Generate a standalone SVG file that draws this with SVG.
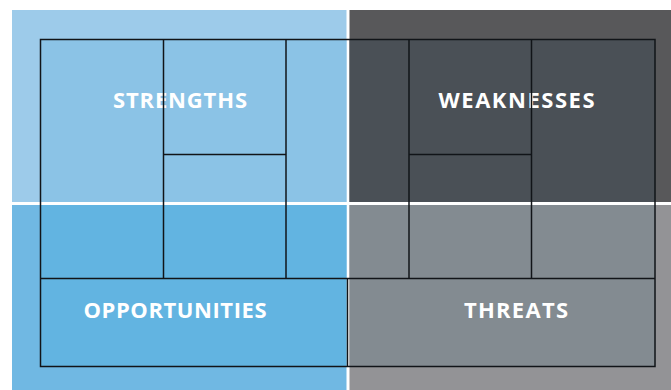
<svg xmlns="http://www.w3.org/2000/svg" width="671" height="390" viewBox="0 0 671 390">
  <style>
    .lbl { font-family: "Open Sans", "Liberation Sans", sans-serif; font-weight: 700; font-size: 22px; fill: #ffffff; }
    .grid { fill: none; stroke: #111418; stroke-width: 1.5; }
  </style>
  <rect width="671" height="390" fill="#ffffff"/>
  <!-- quadrant backgrounds with the inner grid area tinted -->
  <g id="strengths">
    <rect x="12" y="10" width="334.5" height="192" fill="#9dcbea"/>
    <rect x="40" y="39" width="306.5" height="163" fill="#8bc3e6"/>
    <text class="lbl" x="113" y="107.5" textLength="134" lengthAdjust="spacing">STRENGTHS</text>
  </g>
  <g id="weaknesses">
    <rect x="349.5" y="10" width="321.5" height="192" fill="#58585a"/>
    <rect x="349.5" y="39" width="305.5" height="163" fill="#4a5056"/>
    <text class="lbl" x="438.5" y="107.5" textLength="156" lengthAdjust="spacing">WEAKNESSES</text>
  </g>
  <g id="opportunities">
    <rect x="12" y="205" width="334.5" height="185" fill="#70b8e3"/>
    <rect x="40" y="205" width="306.5" height="162" fill="#62b4e1"/>
    <text class="lbl" x="83.5" y="317.5" textLength="183" lengthAdjust="spacing">OPPORTUNITIES</text>
  </g>
  <g id="threats">
    <rect x="349.5" y="205" width="321.5" height="185" fill="#939396"/>
    <rect x="349.5" y="205" width="305.5" height="162" fill="#838b91"/>
    <text class="lbl" x="464" y="317.5" textLength="104" lengthAdjust="spacing">THREATS</text>
  </g>
  <!-- grid lines -->
  <g id="connectors" class="grid">
    <rect x="40.5" y="39.5" width="614.5" height="327"/>
    <line x1="163.5" y1="39.5" x2="163.5" y2="278.5"/>
    <line x1="286" y1="39.5" x2="286" y2="278.5"/>
    <line x1="409" y1="39.5" x2="409" y2="278.5"/>
    <line x1="531.5" y1="39.5" x2="531.5" y2="278.5"/>
    <line x1="163.5" y1="154.5" x2="286" y2="154.5"/>
    <line x1="409" y1="154.5" x2="531.5" y2="154.5"/>
    <line x1="40.5" y1="278.5" x2="655" y2="278.5"/>
    <line x1="347.5" y1="278.5" x2="347.5" y2="366.5"/>
  </g>
</svg>
